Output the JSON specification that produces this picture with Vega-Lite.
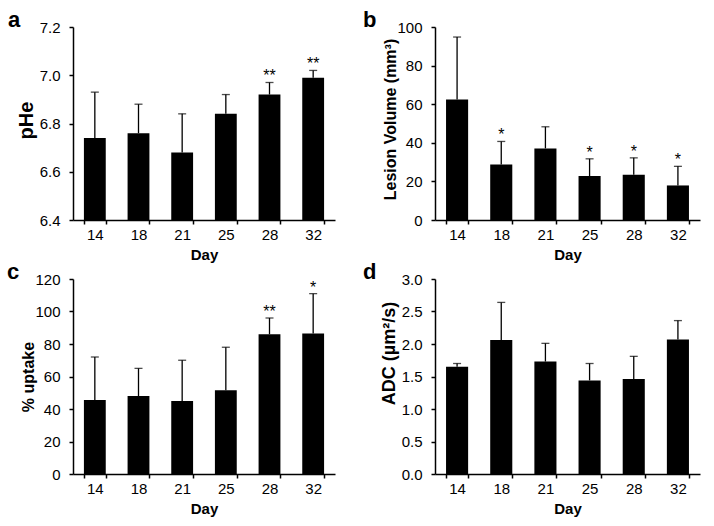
{
  "$schema": "https://vega.github.io/schema/vega-lite/v6.json",
  "background": "white",
  "padding": {"left": 7, "top": 9, "right": 5, "bottom": 5},
  "columns": 2,
  "spacing": {"row": 59, "column": 100},
  "bounds": "flush",
  "config": {
    "font": "Liberation Sans",
    "view": {"stroke": null},
    "axis": {
      "grid": false,
      "labelOverlap": false,
      "domainColor": "black",
      "domainWidth": 1.5,
      "tickColor": "black",
      "tickWidth": 1.5,
      "tickSize": 4,
      "labelColor": "black",
      "labelFont": "Liberation Sans",
      "labelFontSize": 15,
      "titleColor": "black",
      "titleFont": "Liberation Sans",
      "titleFontWeight": "bold"
    },
    "axisX": {"labelAngle": 0, "labelPadding": 3, "tickBand": "extent", "titleFontSize": 15, "titleY": 27},
    "axisY": {"labelPadding": 9, "titleFontSize": 16, "titleX": -37, "titleBaseline": "bottom"},
    "title": {"anchor": "start", "frame": "group", "fontSize": 22, "fontWeight": "bold", "font": "Liberation Sans", "color": "black", "baseline": "alphabetic", "offset": -12}
  },
  "concat": [
    {
      "width": 262, "height": 193,
      "title": {"text": "a", "dx": -65},
      "data": {"values": [
        {"day": "14", "value": 6.74, "upper": 6.93, "sig": ""},
        {"day": "18", "value": 6.76, "upper": 6.88, "sig": ""},
        {"day": "21", "value": 6.68, "upper": 6.84, "sig": ""},
        {"day": "25", "value": 6.84, "upper": 6.92, "sig": ""},
        {"day": "28", "value": 6.92, "upper": 6.97, "sig": "**"},
        {"day": "32", "value": 6.99, "upper": 7.02, "sig": "**"}
      ]},
      "encoding": {
        "x": {"field": "day", "type": "nominal", "sort": null, "title": "Day", "scale": {"paddingInner": 0.5, "paddingOuter": 0.25}}
      },
      "layer": [
        {"mark": {"type": "bar", "color": "black"},
         "encoding": {
           "y": {"field": "value", "type": "quantitative", "title": "pHe",
                 "scale": {"domain": [6.4, 7.2], "zero": false, "nice": false},
                 "axis": {"values": [6.4, 6.6, 6.8, 7.0, 7.2], "format": ".1f", "labelOverlap": false, "titleFontSize": 20, "titleY": 93}},
           "y2": {"datum": 6.4}}},
        {"mark": {"type": "rule", "color": "black", "strokeWidth": 1.3},
         "encoding": {"y": {"field": "value", "type": "quantitative", "title": "pHe",
                 "scale": {"domain": [6.4, 7.2], "zero": false, "nice": false},
                 "axis": {"values": [6.4, 6.6, 6.8, 7.0, 7.2], "format": ".1f", "labelOverlap": false, "titleFontSize": 20, "titleY": 93}}, "y2": {"field": "upper"}}},
        {"mark": {"type": "tick", "color": "black", "size": 8, "thickness": 1.3},
         "encoding": {"y": {"field": "upper", "type": "quantitative", "title": "pHe",
                 "scale": {"domain": [6.4, 7.2], "zero": false, "nice": false},
                 "axis": {"values": [6.4, 6.6, 6.8, 7.0, 7.2], "format": ".1f", "labelOverlap": false, "titleFontSize": 20, "titleY": 93}}}},
        {"mark": {"type": "text", "color": "black", "fontSize": 16, "baseline": "alphabetic", "dy": -1},
         "encoding": {"y": {"field": "upper", "type": "quantitative", "title": "pHe",
                 "scale": {"domain": [6.4, 7.2], "zero": false, "nice": false},
                 "axis": {"values": [6.4, 6.6, 6.8, 7.0, 7.2], "format": ".1f", "labelOverlap": false, "titleFontSize": 20, "titleY": 93}}, "text": {"field": "sig"}}}
      ]
    },
    {
      "width": 265, "height": 193,
      "title": {"text": "b", "dx": -72},
      "data": {"values": [
        {"day": "14", "value": 62.4, "upper": 94.8, "sig": ""},
        {"day": "18", "value": 28.8, "upper": 40.7, "sig": "*"},
        {"day": "21", "value": 37.1, "upper": 48.3, "sig": ""},
        {"day": "25", "value": 22.8, "upper": 31.7, "sig": "*"},
        {"day": "28", "value": 23.4, "upper": 32.2, "sig": "*"},
        {"day": "32", "value": 17.9, "upper": 27.8, "sig": "*"}
      ]},
      "encoding": {
        "x": {"field": "day", "type": "nominal", "sort": null, "title": "Day", "scale": {"paddingInner": 0.5, "paddingOuter": 0.25}}
      },
      "layer": [
        {"mark": {"type": "bar", "color": "black"},
         "encoding": {
           "y": {"field": "value", "type": "quantitative", "title": "Lesion Volume (mm³)",
                 "scale": {"domain": [0, 100], "nice": false},
                 "axis": {"values": [0, 20, 40, 60, 80, 100], "labelOverlap": false, "titleY": 92}}}},
        {"mark": {"type": "rule", "color": "black", "strokeWidth": 1.3},
         "encoding": {"y": {"field": "value", "type": "quantitative", "title": "Lesion Volume (mm³)",
                 "scale": {"domain": [0, 100], "nice": false},
                 "axis": {"values": [0, 20, 40, 60, 80, 100], "labelOverlap": false, "titleY": 92}}, "y2": {"field": "upper"}}},
        {"mark": {"type": "tick", "color": "black", "size": 8, "thickness": 1.3},
         "encoding": {"y": {"field": "upper", "type": "quantitative", "title": "Lesion Volume (mm³)",
                 "scale": {"domain": [0, 100], "nice": false},
                 "axis": {"values": [0, 20, 40, 60, 80, 100], "labelOverlap": false, "titleY": 92}}}},
        {"mark": {"type": "text", "color": "black", "fontSize": 16, "baseline": "alphabetic", "dy": -1},
         "encoding": {"y": {"field": "upper", "type": "quantitative", "title": "Lesion Volume (mm³)",
                 "scale": {"domain": [0, 100], "nice": false},
                 "axis": {"values": [0, 20, 40, 60, 80, 100], "labelOverlap": false, "titleY": 92}}, "text": {"field": "sig"}}}
      ]
    },
    {
      "width": 262, "height": 195,
      "title": {"text": "c", "dx": -66},
      "data": {"values": [
        {"day": "14", "value": 45.5, "upper": 72, "sig": ""},
        {"day": "18", "value": 48, "upper": 65, "sig": ""},
        {"day": "21", "value": 45, "upper": 70, "sig": ""},
        {"day": "25", "value": 51.5, "upper": 78, "sig": ""},
        {"day": "28", "value": 86, "upper": 96, "sig": "**"},
        {"day": "32", "value": 86.5, "upper": 111, "sig": "*"}
      ]},
      "encoding": {
        "x": {"field": "day", "type": "nominal", "sort": null, "title": "Day", "scale": {"paddingInner": 0.5, "paddingOuter": 0.25}}
      },
      "layer": [
        {"mark": {"type": "bar", "color": "black"},
         "encoding": {
           "y": {"field": "value", "type": "quantitative", "title": "% uptake",
                 "scale": {"domain": [0, 120], "nice": false},
                 "axis": {"values": [0, 20, 40, 60, 80, 100, 120], "labelOverlap": false}}}},
        {"mark": {"type": "rule", "color": "black", "strokeWidth": 1.3},
         "encoding": {"y": {"field": "value", "type": "quantitative", "title": "% uptake",
                 "scale": {"domain": [0, 120], "nice": false},
                 "axis": {"values": [0, 20, 40, 60, 80, 100, 120], "labelOverlap": false}}, "y2": {"field": "upper"}}},
        {"mark": {"type": "tick", "color": "black", "size": 8, "thickness": 1.3},
         "encoding": {"y": {"field": "upper", "type": "quantitative", "title": "% uptake",
                 "scale": {"domain": [0, 120], "nice": false},
                 "axis": {"values": [0, 20, 40, 60, 80, 100, 120], "labelOverlap": false}}}},
        {"mark": {"type": "text", "color": "black", "fontSize": 16, "baseline": "alphabetic", "dy": -1},
         "encoding": {"y": {"field": "upper", "type": "quantitative", "title": "% uptake",
                 "scale": {"domain": [0, 120], "nice": false},
                 "axis": {"values": [0, 20, 40, 60, 80, 100, 120], "labelOverlap": false}}, "text": {"field": "sig"}}}
      ]
    },
    {
      "width": 265, "height": 195,
      "title": {"text": "d", "dx": -72},
      "data": {"values": [
        {"day": "14", "value": 1.65, "upper": 1.70, "sig": ""},
        {"day": "18", "value": 2.06, "upper": 2.64, "sig": ""},
        {"day": "21", "value": 1.73, "upper": 2.01, "sig": ""},
        {"day": "25", "value": 1.44, "upper": 1.70, "sig": ""},
        {"day": "28", "value": 1.46, "upper": 1.81, "sig": ""},
        {"day": "32", "value": 2.07, "upper": 2.36, "sig": ""}
      ]},
      "encoding": {
        "x": {"field": "day", "type": "nominal", "sort": null, "title": "Day", "scale": {"paddingInner": 0.5, "paddingOuter": 0.25}}
      },
      "layer": [
        {"mark": {"type": "bar", "color": "black"},
         "encoding": {
           "y": {"field": "value", "type": "quantitative", "title": "ADC (µm²/s)",
                 "scale": {"domain": [0, 3], "nice": false},
                 "axis": {"values": [0, 0.5, 1, 1.5, 2, 2.5, 3], "format": ".1f", "labelOverlap": false, "titleFontSize": 18, "titleY": 74}}}},
        {"mark": {"type": "rule", "color": "black", "strokeWidth": 1.3},
         "encoding": {"y": {"field": "value", "type": "quantitative", "title": "ADC (µm²/s)",
                 "scale": {"domain": [0, 3], "nice": false},
                 "axis": {"values": [0, 0.5, 1, 1.5, 2, 2.5, 3], "format": ".1f", "labelOverlap": false, "titleFontSize": 18, "titleY": 74}}, "y2": {"field": "upper"}}},
        {"mark": {"type": "tick", "color": "black", "size": 8, "thickness": 1.3},
         "encoding": {"y": {"field": "upper", "type": "quantitative", "title": "ADC (µm²/s)",
                 "scale": {"domain": [0, 3], "nice": false},
                 "axis": {"values": [0, 0.5, 1, 1.5, 2, 2.5, 3], "format": ".1f", "labelOverlap": false, "titleFontSize": 18, "titleY": 74}}}}
      ]
    }
  ]
}
